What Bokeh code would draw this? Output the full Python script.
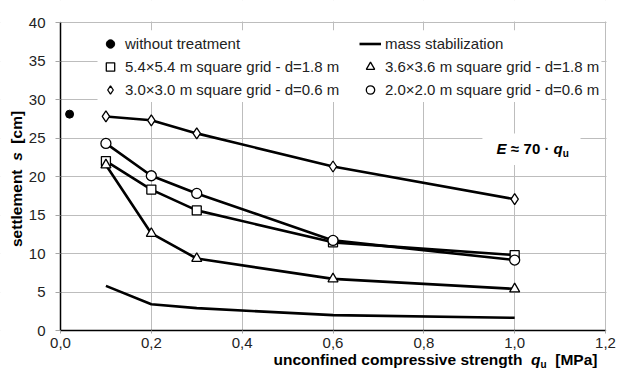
import math
from bokeh.plotting import figure
from bokeh.models import (Range1d, FixedTicker, CustomJSTickFormatter, Legend, LegendItem,
                          BoxAnnotation, Label)
from bokeh.embed import file_html
from bokeh.resources import INLINE

# ---------------- data ----------------
q_untreated = [0.02]
s_untreated = [28.1]

q = [0.1, 0.2, 0.3, 0.6, 1.0]
s_mass = [5.8, 3.4, 2.9, 2.0, 1.65]
s_grid54 = [22.0, 18.3, 15.6, 11.45, 9.8]
s_grid36 = [21.5, 12.6, 9.35, 6.7, 5.4]
s_grid30 = [27.8, 27.3, 25.6, 21.3, 17.05]
s_grid20 = [24.3, 20.1, 17.8, 11.7, 9.15]

x_ticks = [0.0, 0.2, 0.4, 0.6, 0.8, 1.0, 1.2]
y_ticks = [0, 5, 10, 15, 20, 25, 30, 35, 40]

label_untreated = "without treatment"
label_mass = "mass stabilization"
label_54 = "5.4\u00d75.4 m square grid - d=1.8 m"
label_36 = "3.6\u00d73.6 m square grid - d=1.8 m"
label_30 = "3.0\u00d73.0 m square grid - d=0.6 m"
label_20 = "2.0\u00d72.0 m square grid - d=0.6 m"

# ---------------- layout ----------------
W, H = 617, 369
XMAX, YMAX = 1.2, 40.0
# plot area inside the canvas (px)
PL, PR, PT, PB = 60, 605, 22, 330
KX = (PR - PL) / XMAX      # px per x unit
KY = (PB - PT) / YMAX      # px per y unit
PXX, PXY = 1.0 / KX, 1.0 / KY
x0r, x1r = -PL / KX, XMAX + (W - PR) / KX
y0r, y1r = -(H - PB) / KY, YMAX + PT / KY

FONT = "Liberation Sans"
TXT = "#222222"
GRID = "#bdbdbd"
BASE_FIX = 7.0   # px: observed shift of the alphabetic baseline for 15px text

p = figure(width=W, height=H, x_range=Range1d(x0r, x1r), y_range=Range1d(y0r, y1r),
           output_backend="svg", toolbar_location=None,
           min_border=0, min_border_left=0, min_border_right=0,
           min_border_top=0, min_border_bottom=0)

p.background_fill_color = "white"
p.border_fill_color = "white"
p.outline_line_color = None

p.xaxis.ticker = FixedTicker(ticks=x_ticks)
p.yaxis.ticker = FixedTicker(ticks=y_ticks)
p.xaxis.formatter = CustomJSTickFormatter(code="return tick.toFixed(1).replace('.', ',');")
p.xaxis.fixed_location = 0
p.yaxis.fixed_location = 0
p.xaxis.bounds = (0, XMAX)
p.yaxis.bounds = (0, YMAX)
for ax in (p.xaxis[0], p.yaxis[0]):
    ax.axis_line_color = "black"
    ax.axis_line_width = 1.5
    ax.major_tick_line_color = "#a6a6a6"
    ax.major_tick_in = 0
    ax.minor_tick_line_color = None
    ax.major_label_text_font = FONT
    ax.major_label_text_font_size = "15px"
    ax.major_label_text_color = TXT
p.yaxis.major_tick_out = 5
p.yaxis.major_label_standoff = 10
p.xaxis.major_tick_out = 3
p.xaxis.major_label_standoff = 4

p.xgrid.ticker = FixedTicker(ticks=x_ticks)
p.ygrid.ticker = FixedTicker(ticks=y_ticks)
p.grid.grid_line_color = GRID
p.grid.grid_line_width = 1

# white masks: keep grid lines inside the plot area, and free the legend / formula area
def white_box(l, r, b, t):
    p.add_layout(BoxAnnotation(left=l, right=r, bottom=b, top=t, level="underlay",
                               fill_color="white", fill_alpha=1.0, line_color=None))

white_box(-5, -0.0005, -50, 100)                 # left of the y axis
white_box(-5, 5, -50, -0.03)                     # below the x axis
white_box(-5, 5, YMAX + 1.0 * PXY, 100)          # above the top border
white_box(XMAX + 1.0 * PXX, 5, -50, 100)         # right of the right border
white_box(0.0815, 1.191, 29.66, 39.0)            # legend background
white_box(0.929, 1.145, 21.5, 25.6)              # formula background

LW = 2.6
# series
r_mass = p.line(q, s_mass, line_color="black", line_width=LW)

p.line(q, s_grid30, line_color="black", line_width=LW)
r_30 = p.scatter(q, s_grid30, marker="diamond", size=11, fill_color="white",
                 line_color="black", line_width=1.3)

p.line(q, s_grid54, line_color="black", line_width=LW)
r_54 = p.scatter(q, s_grid54, marker="square", size=9, fill_color="white",
                 line_color="black", line_width=1.3)

p.line(q, s_grid20, line_color="black", line_width=LW)
r_20 = p.scatter(q, s_grid20, marker="circle", size=10, fill_color="white",
                 line_color="black", line_width=1.3)

p.line(q, s_grid36, line_color="black", line_width=LW)
r_36 = p.scatter(q, s_grid36, marker="triangle", size=10, fill_color="white",
                 line_color="black", line_width=1.3)

r_un = p.scatter(q_untreated, s_untreated, marker="circle", size=8, fill_color="black",
                 line_color="black")

# legends (two columns)
def make_legend(items, x_px):
    lg = Legend(items=items, location=(x_px, 269), orientation="vertical")
    lg.background_fill_alpha = 0
    lg.border_line_color = None
    lg.padding = 2
    lg.margin = 0
    lg.spacing = 2
    lg.glyph_width = 22
    lg.glyph_height = 21
    lg.label_height = 21
    lg.label_standoff = 4
    lg.label_text_font = FONT
    lg.label_text_font_size = "15px"
    lg.label_text_color = TXT
    return lg

leg1 = make_legend([LegendItem(label=label_untreated, renderers=[r_un]),
                    LegendItem(label=label_54, renderers=[r_54]),
                    LegendItem(label=label_30, renderers=[r_30])], 99)
leg2 = make_legend([LegendItem(label=label_mass, renderers=[r_mass]),
                    LegendItem(label=label_36, renderers=[r_36]),
                    LegendItem(label=label_20, renderers=[r_20])], 359)
p.add_layout(leg1)
p.add_layout(leg2)

# ---------------- rich text helpers ----------------
BOLD_W = {' ': 278, '[': 333, ']': 333, 'a': 556, 'c': 556, 'd': 611, 'e': 556, 'f': 333,
          'g': 611, 'h': 611, 'i': 278, 'l': 278, 'm': 889, 'n': 611, 'o': 611, 'p': 611,
          'q': 611, 'r': 389, 's': 556, 't': 333, 'u': 611, 'v': 556, 'M': 833, 'P': 667,
          'E': 667, '7': 556, '0': 556, '\u2248': 584, '\u00b7': 333}

def text_width(txt, size):
    return sum(BOLD_W.get(c, 556) for c in txt) * size / 1000.0

def rich_text(pieces, x0, y0, vertical=False):
    """pieces: (text, style, size_px, baseline_shift_px, gap_after_px); data units"""
    off = 0.0
    for txt, style, size, shift, gap in pieces:
        if vertical:
            x, y, ang = x0 + shift * PXX, y0 + off * PXY, math.pi / 2
        else:
            x, y, ang = x0 + off * PXX, y0 - shift * PXY, 0
        p.add_layout(Label(x=x, y=y, text=txt, angle=ang,
                           text_font=FONT, text_font_size=f"{size}px",
                           text_font_style=style, text_color="black",
                           text_align="left", text_baseline="alphabetic"))
        off += text_width(txt, size) + gap

S15 = 15 * 278 / 1000.0     # one bold space at 15px
S155 = 15.5 * 278 / 1000.0

# formula E ~ 70 q_u
rich_text([("E", "bold italic", 15, 0, S15),
           ("\u2248", "bold", 15, 0, S15),
           ("70", "bold", 15, 0, S15),
           ("\u00b7", "bold", 15, 0, S15),
           ("q", "bold italic", 15, 0, 0),
           ("u", "bold", 10, 5, 0)], 0.960, (PB - (155 - BASE_FIX)) * PXY)

# x axis title
rich_text([("unconfined compressive strength", "bold", 15.5, 0, 2 * S155),
           ("q", "bold italic", 15.5, 0, 0),
           ("u", "bold", 10, 5, 2 * S155),
           ("[MPa]", "bold", 15.5, 0, 0)],
          (273 - PL) * PXX, -(366 - BASE_FIX - PB) * PXY)

# y axis title (vertical, reads bottom to top)
rich_text([("settlement", "bold", 15.5, 0, 2 * S155),
           ("s", "bold italic", 15.5, 0, 2 * S155),
           ("[cm]", "bold", 15.5, 0, 0)],
          (22.7 - BASE_FIX - PL) * PXX, (PB - 246.5) * PXY, vertical=True)

open("out.html", "w").write(file_html(p, INLINE))
